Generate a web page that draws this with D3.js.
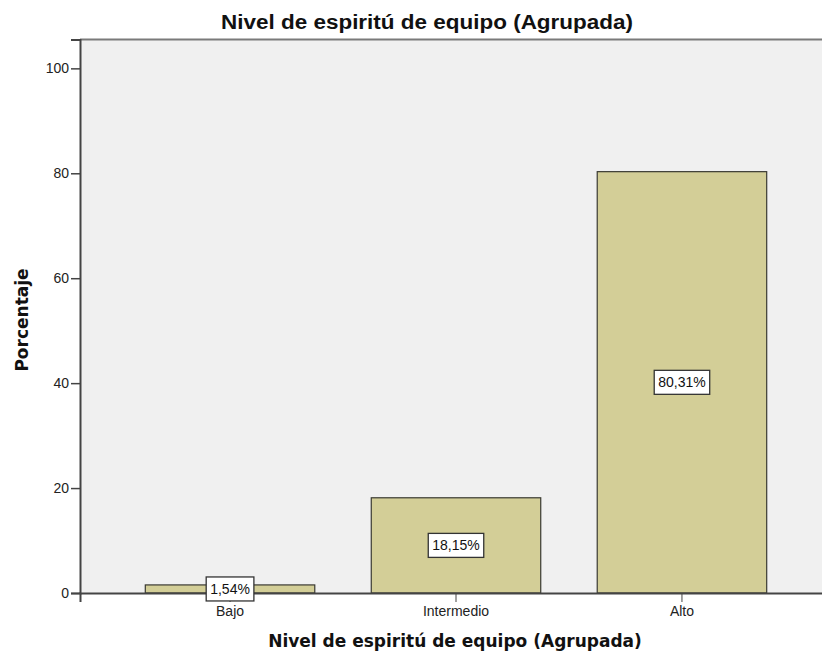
<!DOCTYPE html>
<html>
<head>
<meta charset="utf-8">
<script src="https://cdn.jsdelivr.net/npm/d3@7"></script>
<style>
  html, body { margin: 0; padding: 0; background: #ffffff; }
  svg { display: block; }
</style>
</head>
<body>
<svg id="chart" width="822" height="656"></svg>
<script>
// Distribution of "Nivel de espiritú de equipo" (grouped), in percent
const categories = ["Bajo", "Intermedio", "Alto"];
const percentages = [1.54, 18.15, 80.31];
const valueLabels = ["1,54%", "18,15%", "80,31%"];
const yTicks = [0, 20, 40, 60, 80, 100];

const title = "Nivel de espiritú de equipo (Agrupada)";
const xTitle = "Nivel de espiritú de equipo (Agrupada)";
const yTitle = "Porcentaje";

const svg = d3.select("#chart");
const plot = { left: 80, right: 832, top: 39.5, bottom: 593 };

const x = d3.scaleBand()
  .domain(categories)
  .range([plot.left, plot.right])
  .paddingInner(0.25)
  .paddingOuter(0.289);

const y = d3.scaleLinear()
  .domain([0, 105.5])
  .range([plot.bottom, plot.top]);

// plot background
svg.append("rect")
  .attr("x", plot.left).attr("y", plot.top)
  .attr("width", plot.right - plot.left)
  .attr("height", plot.bottom - plot.top)
  .attr("fill", "#f0f0f0");

// top frame line
svg.append("line")
  .attr("x1", plot.left).attr("x2", plot.right)
  .attr("y1", plot.top).attr("y2", plot.top)
  .attr("stroke", "#7a7a7a").attr("stroke-width", 2);

// bars
svg.append("g").selectAll("rect")
  .data(percentages)
  .join("rect")
  .attr("x", (d, i) => x(categories[i]))
  .attr("y", d => y(d))
  .attr("width", x.bandwidth())
  .attr("height", d => y(0) - y(d))
  .attr("fill", "#d3ce97")
  .attr("stroke", "#3a3a32")
  .attr("stroke-width", 1.2);

// axes
const yAxis = d3.axisLeft(y).tickValues(yTicks).tickSize(9).tickPadding(2).tickFormat(d3.format("d"));
const gy = svg.append("g").attr("transform", `translate(${plot.left},0)`).call(yAxis);
gy.select(".domain").attr("stroke", "#444").attr("stroke-width", 2);
gy.selectAll(".tick line").attr("stroke", "#444").attr("stroke-width", 1.5);
gy.selectAll(".tick text")
  .attr("font-family", "Liberation Sans, Arial, sans-serif")
  .attr("font-size", 14).attr("fill", "#222");

const xAxis = d3.axisBottom(x).tickSize(9).tickPadding(4);
const gx = svg.append("g").attr("transform", `translate(0,${plot.bottom})`).call(xAxis);
gx.select(".domain").attr("stroke", "#444").attr("stroke-width", 2);
gx.selectAll(".tick line").attr("stroke", "#444").attr("stroke-width", 1);
gx.selectAll(".tick text")
  .attr("font-family", "Liberation Sans, Arial, sans-serif")
  .attr("font-size", 14).attr("fill", "#222");

// value labels in boxes at mid-height of each bar
const lbl = svg.append("g").selectAll("g")
  .data(percentages)
  .join("g")
  .attr("transform", (d, i) => `translate(${x(categories[i]) + x.bandwidth() / 2},${y(d / 2)})`);

lbl.append("text")
  .attr("text-anchor", "middle")
  .attr("dy", "0.36em")
  .attr("font-family", "Liberation Sans, Arial, sans-serif")
  .attr("font-size", 14)
  .attr("fill", "#111")
  .text((d, i) => valueLabels[i]);

lbl.each(function () {
  const g = d3.select(this);
  const bb = g.select("text").node().getBBox();
  g.insert("rect", "text")
    .attr("x", bb.x - 4).attr("y", -12)
    .attr("width", bb.width + 8).attr("height", 24)
    .attr("fill", "#ffffff")
    .attr("stroke", "#333")
    .attr("stroke-width", 1.3);
});

// titles
svg.append("text")
  .attr("x", 427).attr("y", 29)
  .attr("text-anchor", "middle")
  .attr("font-family", "Liberation Sans, Arial, sans-serif")
  .attr("font-size", 20)
  .attr("font-weight", "bold")
  .attr("textLength", 412)
  .attr("lengthAdjust", "spacingAndGlyphs")
  .attr("fill", "#111")
  .text(title);

svg.append("text")
  .attr("x", 455).attr("y", 647)
  .attr("text-anchor", "middle")
  .attr("font-family", "DejaVu Sans, sans-serif")
  .attr("font-size", 17)
  .attr("font-weight", "bold")
  .attr("fill", "#111")
  .text(xTitle);

svg.append("text")
  .attr("transform", "translate(28,320) rotate(-90)")
  .attr("text-anchor", "middle")
  .attr("font-family", "DejaVu Sans, sans-serif")
  .attr("font-size", 17)
  .attr("font-weight", "bold")
  .attr("fill", "#111")
  .text(yTitle);
</script>
</body>
</html>
